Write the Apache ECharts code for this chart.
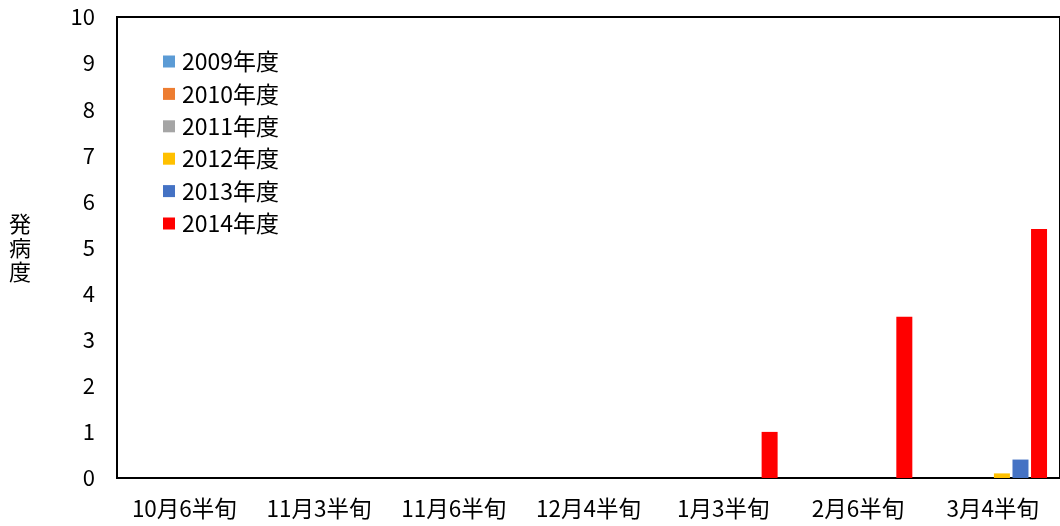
<!DOCTYPE html>
<html><head><meta charset="utf-8">
<script src="https://cdn.jsdelivr.net/npm/echarts@6/dist/echarts.min.js"></script>
<style>html,body{margin:0;padding:0;background:#fff}#c{width:1060px;height:526px}</style>
</head><body><div id="c"></div>
<script>
var categories = ['10月6半旬','11月3半旬','11月6半旬','12月4半旬','1月3半旬','2月6半旬','3月4半旬'];
var seriesNames = ['2009年度','2010年度','2011年度','2012年度','2013年度','2014年度'];
var s2009 = [0,0,0,0,0,0,0];
var s2010 = [0,0,0,0,0,0,0];
var s2011 = [0,0,0,0,0,0,0];
var s2012 = [0,0,0,0,0,0,0.1];
var s2013 = [0,0,0,0,0,0,0.4];
var s2014 = [0,0,0,0,1.0,3.5,5.4];
var colors = ['#5b9bd5','#ed7d31','#a5a5a5','#ffc000','#4472c4','#ff0000'];
var allData = [s2009,s2010,s2011,s2012,s2013,s2014];
var FONT = '"Noto Sans CJK JP", sans-serif';
var chart = echarts.init(document.getElementById('c'));
chart.setOption({
  animation:false,
  color: colors,
  grid:{left:117,top:17,right:-2,bottom:48,show:true,borderColor:'#000',borderWidth:2,backgroundColor:'transparent'},
  legend:{
    orient:'vertical', left:158, top:45, itemWidth:12, itemHeight:12, itemGap:9.4,
    icon:'rect',
    textStyle:{fontFamily:FONT,fontSize:23,color:'#000',lineHeight:23,padding:[0,0,0,2]},
    data: seriesNames
  },
  xAxis:{
    type:'category', data:categories,
    axisLine:{lineStyle:{color:'#000',width:2}},
    axisTick:{inside:true,length:6,interval:0,lineStyle:{color:'#000',width:2}},
    axisLabel:{fontFamily:FONT,fontSize:22.5,color:'#000',margin:19,interval:0}
  },
  yAxis:{
    type:'value', min:0, max:10, interval:1,
    name:'発\n病\n度', nameLocation:'middle', nameRotate:0, nameGap:86,
    nameTextStyle:{fontFamily:FONT,fontSize:22,color:'#000',lineHeight:24},
    axisLine:{show:true,lineStyle:{color:'#000',width:2}},
    axisTick:{show:false},
    splitLine:{show:false},
    axisLabel:{fontFamily:FONT,fontSize:22,color:'#000',margin:22}
  },
  series: allData.map(function(d,i){
    return {name:seriesNames[i], type:'bar', data:d, barWidth:16, barGap:'16%', barCategoryGap:'20%'};
  })
});
</script></body></html>
